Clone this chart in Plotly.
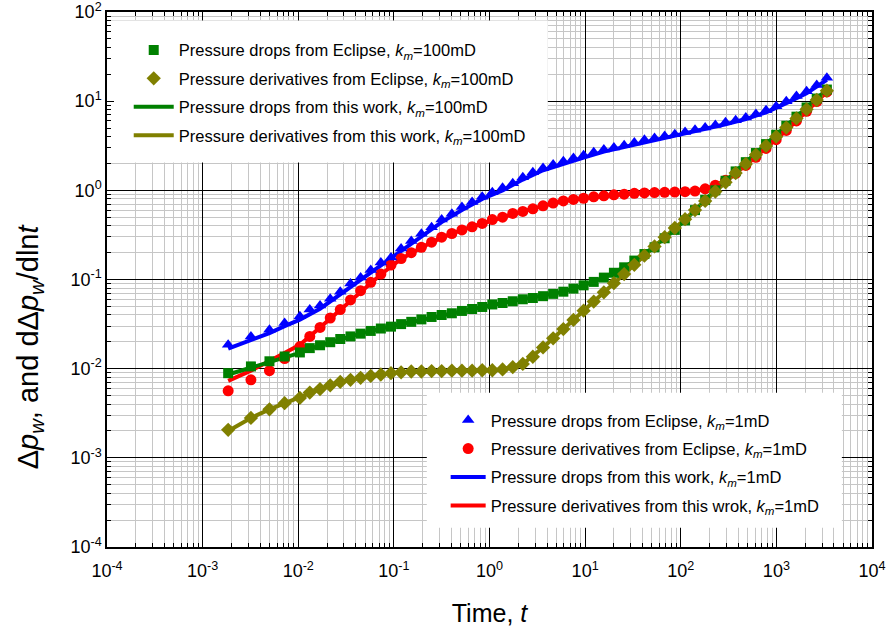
import plotly.graph_objects as go

# ---------------- data ----------------
t_markers = [0.00185, 0.0032, 0.005, 0.0072, 0.0104, 0.0132, 0.0169, 0.0216, 0.0275, 0.0352,
             0.0449, 0.0573, 0.0731, 0.0933, 0.119, 0.152, 0.194, 0.248, 0.316, 0.404,
             0.515, 0.658, 0.839, 1.07, 1.37, 1.75, 2.23, 2.84, 3.63, 4.63,
             5.92, 7.55, 9.64, 12.3, 15.7, 20.0, 25.6, 32.7, 41.7, 53.2,
             67.9, 86.7, 111, 141, 180, 230, 294, 375, 479, 611,
             780, 995, 1270, 1622, 2070, 2642, 3373]

dp_ecl_1md = [0.0185, 0.023, 0.0273, 0.0325, 0.0386, 0.046, 0.051, 0.061, 0.073, 0.09,
              0.105, 0.128, 0.155, 0.176, 0.222, 0.27, 0.325, 0.385, 0.47, 0.545,
              0.65, 0.74, 0.85, 0.95, 1.07, 1.2, 1.4, 1.6, 1.78, 1.95,
              2.12, 2.3, 2.47, 2.67, 2.87, 3.03, 3.21, 3.45, 3.70, 3.87,
              4.07, 4.26, 4.52, 4.77, 5.06, 5.40, 5.80, 6.1, 6.56, 7.2,
              7.9, 8.75, 9.95, 11.4, 12.9, 15.2, 18.3]

der_ecl_1md = [0.00565, 0.0075, 0.0095, 0.013, 0.0177, 0.023, 0.029, 0.037, 0.046, 0.059,
               0.075, 0.093, 0.115, 0.145, 0.172, 0.2, 0.23, 0.262, 0.298, 0.328,
               0.36, 0.39, 0.425, 0.47, 0.50, 0.55, 0.58, 0.62, 0.67, 0.72,
               0.76, 0.79, 0.815, 0.845, 0.868, 0.89, 0.905, 0.925, 0.935, 0.945,
               0.95, 0.955, 0.965, 0.98, 1.04, 1.14, 1.3, 1.55, 1.9, 2.35,
               2.95, 3.7, 4.7, 6.0, 7.7, 9.9, 12.7]

dp_ecl_100md = [0.0089, 0.0106, 0.0121, 0.0137, 0.0152, 0.017, 0.0183, 0.0198, 0.0215, 0.023,
                0.0247, 0.0265, 0.0282, 0.0296, 0.0316, 0.0335, 0.0357, 0.038, 0.04, 0.0418,
                0.0444, 0.0467, 0.0492, 0.0525, 0.0545, 0.057, 0.06, 0.062, 0.065, 0.069,
                0.073, 0.079, 0.086, 0.094, 0.105, 0.119, 0.137, 0.163, 0.193, 0.23,
                0.29, 0.36, 0.46, 0.60, 0.78, 1.0, 1.28, 1.63, 2.07, 2.62,
                3.3, 4.2, 5.3, 6.7, 8.5, 10.7, 13.5]

der_ecl_100md = [0.00206, 0.0028, 0.0035, 0.0041, 0.0047, 0.0054, 0.0059, 0.0065, 0.0071, 0.0075,
                 0.0079, 0.0083, 0.0086, 0.0089, 0.0091, 0.0093, 0.0093, 0.0094, 0.0094, 0.0095,
                 0.0095, 0.0095, 0.0096, 0.0096, 0.0098, 0.0104, 0.0113, 0.0136, 0.0173, 0.0219,
                 0.0278, 0.0352, 0.0447, 0.0566, 0.0718, 0.091, 0.115, 0.146, 0.185, 0.235,
                 0.298, 0.378, 0.475, 0.6, 0.76, 0.97, 1.23, 1.56, 1.98, 2.5,
                 3.15, 4.0, 5.05, 6.4, 8.1, 10.3, 13.1]

t_line = [0.00185, 0.0032, 0.005, 0.0072, 0.0104, 0.0169, 0.0275, 0.0449, 0.0731, 0.119,
          0.194, 0.316, 0.515, 0.839, 1.37, 2.23, 3.63, 5.92, 9.64, 15.7,
          25.6, 41.7, 67.9, 111, 180, 294, 479, 780, 1270, 2070, 3373]

dp_work_1md = [0.0168, 0.021, 0.025, 0.030, 0.0355, 0.047, 0.068, 0.098, 0.145, 0.205,
               0.30, 0.44, 0.60, 0.80, 1.0, 1.32, 1.68, 2.0, 2.33, 2.72,
               3.05, 3.5, 3.85, 4.3, 4.8, 5.5, 6.3, 7.5, 9.5, 12.3, 17.3]

der_work_1md = [0.0073, 0.0095, 0.0122, 0.015, 0.0185, 0.029, 0.046, 0.074, 0.114, 0.17,
                0.228, 0.295, 0.36, 0.425, 0.50, 0.58, 0.67, 0.76, 0.815, 0.868,
                0.905, 0.935, 0.95, 0.962, 1.03, 1.28, 1.9, 2.95, 4.7, 7.7, 12.7]

dp_work_100md = [0.0086, 0.0103, 0.0119, 0.0135, 0.015, 0.0183, 0.0215, 0.0247, 0.0282, 0.0316,
                 0.0357, 0.04, 0.0444, 0.0492, 0.0545, 0.06, 0.065, 0.073, 0.086, 0.105,
                 0.137, 0.193, 0.29, 0.46, 0.78, 1.28, 2.07, 3.3, 5.3, 8.5, 13.5]

der_work_100md = [0.002, 0.0028, 0.0035, 0.0041, 0.0047, 0.0059, 0.0071, 0.0079, 0.0086, 0.0091,
                  0.0093, 0.0094, 0.0095, 0.0095, 0.0098, 0.0113, 0.0173, 0.0278, 0.0447, 0.0718,
                  0.115, 0.185, 0.298, 0.475, 0.76, 1.23, 1.98, 3.15, 5.05, 8.1, 13.1]

decade_vals_x = [1e-4, 1e-3, 1e-2, 1e-1, 1e0, 1e1, 1e2, 1e3, 1e4]
decade_text_x = ["10<sup>-4</sup>", "10<sup>-3</sup>", "10<sup>-2</sup>", "10<sup>-1</sup>",
                 "10<sup>0</sup>", "10<sup>1</sup>", "10<sup>2</sup>", "10<sup>3</sup>", "10<sup>4</sup>"]
decade_vals_y = [1e-4, 1e-3, 1e-2, 1e-1, 1e0, 1e1, 1e2]
decade_text_y = ["10<sup>-4</sup>", "10<sup>-3</sup>", "10<sup>-2</sup>", "10<sup>-1</sup>",
                 "10<sup>0</sup>", "10<sup>1</sup>", "10<sup>2</sup>"]

# legend background boxes (data-space corners of the white legend panels)
legend1_box = dict(x0=1.02e-4, x1=4.07, y0=2.05, y1=80.3)
legend2_box = dict(x0=0.221, x1=4840, y0=0.000164, y1=0.00537)

KM = "<i>k</i><sub><i>m</i></sub>"
GREEN, OLIVE, BLUE, RED = "#008000", "#808000", "#0000FF", "#FF0000"
FONT = "Arial, 'Liberation Sans', sans-serif"
Y_TITLE = "Δ<i>p</i><sub><i>w</i></sub>, and dΔ<i>p</i><sub><i>w</i></sub>/dln<i>t</i>"

fig = go.Figure()

# lines (this work)
fig.add_trace(go.Scatter(x=t_line, y=der_work_1md, mode="lines", line=dict(color=RED, width=4),
                         name="Pressure derivatives from this wrok, " + KM + "=1mD",
                         legend="legend2", legendgroup="r_l", legendrank=4))
fig.add_trace(go.Scatter(x=t_line, y=dp_work_1md, mode="lines", line=dict(color=BLUE, width=4),
                         name="Pressure drops from this work, " + KM + "=1mD",
                         legend="legend2", legendgroup="b_l", legendrank=3))
fig.add_trace(go.Scatter(x=t_line, y=dp_work_100md, mode="lines", line=dict(color=GREEN, width=4),
                         name="Pressure drops from this work, " + KM + "=100mD",
                         legend="legend", legendgroup="g_l", legendrank=3))
fig.add_trace(go.Scatter(x=t_line, y=der_work_100md, mode="lines", line=dict(color=OLIVE, width=4),
                         name="Pressure derivatives from this work, " + KM + "=100mD",
                         legend="legend", legendgroup="o_l", legendrank=4))

# markers (Eclipse)
fig.add_trace(go.Scatter(x=t_markers, y=der_ecl_1md, mode="markers",
                         marker=dict(symbol="circle", color=RED, size=11),
                         name="Pressure derivatives from Eclipse, " + KM + "=1mD",
                         legend="legend2", legendgroup="r_m", legendrank=2))
fig.add_trace(go.Scatter(x=t_markers, y=dp_ecl_100md, mode="markers",
                         marker=dict(symbol="square", color=GREEN, size=10),
                         name="Pressure drops from Eclipse, " + KM + "=100mD",
                         legend="legend", legendgroup="g_m", legendrank=1))
fig.add_trace(go.Scatter(x=t_markers, y=der_ecl_100md, mode="markers",
                         marker=dict(symbol="diamond", color=OLIVE, size=11),
                         name="Pressure derivatives from Eclipse, " + KM + "=100mD",
                         legend="legend", legendgroup="o_m", legendrank=2))
fig.add_trace(go.Scatter(x=t_markers, y=dp_ecl_1md, mode="markers",
                         marker=dict(symbol="triangle-up", color=BLUE, size=11),
                         name="Pressure drops from Eclipse, " + KM + "=1mD",
                         legend="legend2", legendgroup="b_m", legendrank=1))

axis_common = dict(
    type="log", showline=True, linecolor="black", linewidth=1.5, mirror="allticks",
    ticks="inside", ticklen=7, tickwidth=1.2, tickcolor="black",
    showgrid=True, gridcolor="black", gridwidth=1.2,
    tickfont=dict(family=FONT, size=18, color="black"),
    ticklabeloverflow="allow",
    minor=dict(dtick="D1", ticks="inside", ticklen=4, tickcolor="black", tickwidth=1,
               showgrid=True, gridcolor="#c6c6c6", gridwidth=1),
    zeroline=False, automargin=False,
)

fig.update_xaxes(range=[-4, 4], tickvals=decade_vals_x, ticktext=decade_text_x,
                 ticklabelstandoff=7,
                 title=dict(text="Time, <i>t</i>", font=dict(family=FONT, size=25, color="black"),
                            standoff=24),
                 **axis_common)
fig.update_yaxes(range=[-4, 2], tickvals=decade_vals_y, ticktext=decade_text_y,
                 **axis_common)

legend_font = dict(family=FONT, size=16.5, color="black")
shapes = []
for box in (legend1_box, legend2_box):
    shapes.append(dict(type="rect", xref="x", yref="y", fillcolor="white",
                       line=dict(width=0), layer="between", **box))

fig.update_layout(
    width=891, height=634,
    margin=dict(l=107, r=19, t=12, b=87),
    paper_bgcolor="white", plot_bgcolor="white",
    showlegend=True,
    legend=dict(x=0.0284, y=0.9614, xanchor="left", yanchor="top", bgcolor="rgba(0,0,0,0)",
                font=legend_font, itemwidth=40, tracegroupgap=4, traceorder="grouped"),
    legend2=dict(x=0.4427, y=0.2694, xanchor="left", yanchor="top", bgcolor="rgba(0,0,0,0)",
                 font=legend_font, itemwidth=35, tracegroupgap=4, traceorder="grouped"),
    shapes=shapes,
    annotations=[dict(text=Y_TITLE, textangle=-90, xref="paper", yref="paper",
                      x=-0.1007, y=0.375, xanchor="center", yanchor="middle", showarrow=False,
                      font=dict(family=FONT, size=29, color="black"))],
)

fig.write_html("out.html", post_script="document.body.style.margin='0px';",
               config={"displayModeBar": False})
